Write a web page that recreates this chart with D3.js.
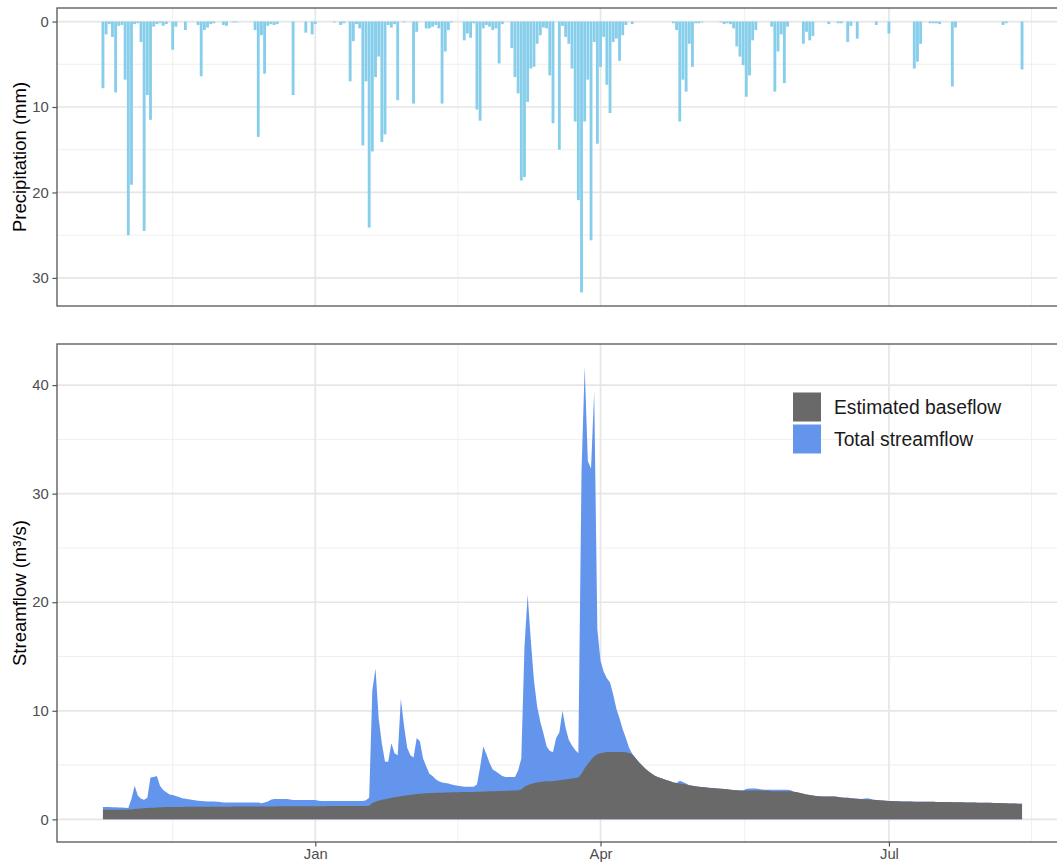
<!DOCTYPE html>
<html>
<head>
<meta charset="utf-8">
<script src="https://cdn.jsdelivr.net/npm/d3@7"></script>
<style>
  body { margin: 0; background: #fff; }
  svg { display: block; }
  text { font-family: "Liberation Sans", Arial, Helvetica, sans-serif; }
</style>
</head>
<body>
<svg id="chart" width="1057" height="863"></svg>
<script>
// Daily record, first day 26 Oct 2018, one value per day
const startDay = "2018-10-26";

// Daily precipitation (mm)
const precipitation = [
  7.8, 1.5, 0.3, 1.8, 8.3, 0.5, 0.4, 6.8, 25.0, 19.1,
  0.3, 0.2, 2.4, 24.5, 8.6, 11.5, 0.6, 0.3, 0.2, 0.5,
  0.3, 0, 3.3, 0.6, 0, 0, 1.0, 0, 0, 0,
  0.4, 6.4, 1.0, 0.7, 0.3, 0.2, 0, 0, 0.4, 0.5,
  0, 0.1, 0.1, 0, 0, 0, 0, 0, 1.0, 13.5,
  1.6, 6.1, 0.5, 0.3, 0.4, 0.3, 0, 0, 0, 0,
  8.6, 0, 0, 0, 1.3, 0, 1.5, 0.3, 0, 0,
  0, 0, 0, 0.1, 0, 0.4, 0.2, 0, 7.0, 2.3,
  0.3, 0.8, 14.5, 7.0, 24.1, 15.2, 6.5, 4.1, 14.1, 13.2,
  0.4, 0.7, 0.3, 9.2, 0, 0.1, 0, 0, 9.6, 1.2,
  0, 0, 0.8, 0.8, 0.6, 0.4, 0.8, 9.6, 3.5, 1.0,
  0.1, 0, 0, 0, 2.2, 1.4, 1.9, 0.2, 10.3, 11.6,
  0.8, 0.4, 0.6, 1.0, 0.8, 4.9, 0.3, 0, 0, 3.1,
  6.5, 8.4, 18.6, 18.2, 9.4, 5.5, 5.3, 2.6, 1.6, 0.7,
  0.8, 6.3, 11.9, 0, 15.0, 0.5, 1.8, 2.6, 5.5, 11.7,
  20.9, 31.7, 11.7, 6.8, 25.6, 2.4, 14.3, 5.3, 1.8, 7.4,
  10.7, 2.4, 2.0, 4.6, 1.6, 0.4, 0, 0.3, 0, 0,
  0, 0, 0, 0, 0, 0, 0, 0, 0, 0,
  0.2, 1.0, 11.7, 6.8, 8.2, 2.6, 5.3, 0.2, 0.2, 0.1,
  0, 0, 0, 0, 0, 0.1, 0.3, 0.2, 0.3, 0.8,
  2.9, 4.1, 5.1, 8.8, 6.3, 2.2, 1.0, 0, 0, 0,
  0, 0.6, 8.2, 3.5, 1.5, 7.2, 0.6, 0, 0, 0,
  0, 2.6, 1.2, 2.2, 1.7, 0, 0, 0, 0, 0.3,
  0, 0, 0.2, 0.2, 0, 2.4, 0.5, 0, 2.0, 0,
  0, 0, 0, 0, 0.4, 0, 0, 0, 1.4, 0,
  0, 0, 0, 0, 0, 0, 5.5, 4.7, 2.6, 0,
  0, 0.2, 0.2, 0.2, 0.3, 0, 0, 0, 7.6, 0.7,
  0, 0, 0, 0, 0, 0, 0, 0, 0, 0,
  0, 0, 0, 0, 0.4, 0.2, 0, 0, 0, 0,
  5.6
];

// Daily total streamflow (m3/s)
const totalFlow = [
  1.15, 1.15, 1.15, 1.12, 1.12, 1.1, 1.1, 1.08, 1.05, 1.9,
  3.1, 2.2, 1.9, 1.8, 2.0, 3.85, 3.9, 4.0, 3.1, 2.7,
  2.5, 2.3, 2.25, 2.15, 2.05, 1.95, 1.9, 1.85, 1.8, 1.75,
  1.72, 1.68, 1.66, 1.65, 1.65, 1.64, 1.63, 1.6, 1.55, 1.55,
  1.55, 1.55, 1.55, 1.55, 1.55, 1.55, 1.55, 1.55, 1.55, 1.55,
  1.48, 1.55, 1.65, 1.8, 1.88, 1.88, 1.88, 1.88, 1.88, 1.82,
  1.78, 1.78, 1.78, 1.78, 1.78, 1.78, 1.78, 1.78, 1.72, 1.7,
  1.7, 1.7, 1.7, 1.7, 1.7, 1.7, 1.7, 1.7, 1.7, 1.7,
  1.7, 1.7, 1.7, 1.75, 2.0, 11.9, 13.9, 9.3, 7.0, 5.3,
  5.3, 7.0, 6.1, 5.9, 11.1, 8.6, 6.6, 5.9, 5.7, 7.5,
  7.2, 5.6, 4.9, 4.2, 4.0, 3.7, 3.5, 3.4, 3.35, 3.3,
  3.2, 3.15, 3.1, 3.05, 3.0, 3.0, 3.0, 3.0, 3.2, 4.8,
  6.7, 6.0, 5.2, 4.6, 4.4, 4.2, 4.0, 3.9, 3.9, 3.9,
  3.9, 4.5, 5.6, 15.9, 20.7, 16.5, 12.8, 10.4, 9.0, 7.9,
  6.7, 6.3, 6.2, 7.5, 8.0, 10.0, 8.4, 7.3, 6.8, 6.4,
  6.1, 32.0, 41.7, 33.0, 32.3, 39.4, 17.5, 14.6, 13.6, 13.0,
  12.6, 11.5, 10.2, 9.3, 8.3, 7.5, 6.6, 6.05, 5.65, 5.3,
  5.0, 4.7, 4.45, 4.25, 4.05, 3.9, 3.8, 3.7, 3.6, 3.5,
  3.4, 3.35, 3.55, 3.45, 3.3, 3.15, 3.1, 3.05, 3.0, 2.98,
  2.95, 2.92, 2.9, 2.87, 2.85, 2.82, 2.8, 2.77, 2.73, 2.7,
  2.68, 2.66, 2.65, 2.8, 2.85, 2.85, 2.85, 2.8, 2.75, 2.72,
  2.72, 2.72, 2.72, 2.72, 2.72, 2.72, 2.72, 2.68, 2.55, 2.5,
  2.42, 2.35, 2.3, 2.25, 2.2, 2.15, 2.12, 2.1, 2.1, 2.1,
  2.1, 2.1, 2.05, 2.02, 2.0, 1.98, 1.95, 1.92, 1.9, 1.88,
  1.9, 1.95, 1.9, 1.8, 1.78, 1.76, 1.74, 1.72, 1.7, 1.68,
  1.66, 1.66, 1.65, 1.65, 1.64, 1.64, 1.63, 1.63, 1.63, 1.62,
  1.62, 1.62, 1.62, 1.6, 1.6, 1.6, 1.59, 1.59, 1.58, 1.58,
  1.57, 1.57, 1.56, 1.56, 1.55, 1.55, 1.54, 1.54, 1.53, 1.53,
  1.52, 1.51, 1.5, 1.5, 1.49, 1.48, 1.47, 1.46, 1.45, 1.44,
  1.43
];

// Daily estimated baseflow (m3/s)
const baseflow = [
  0.88, 0.88, 0.88, 0.88, 0.88, 0.88, 0.88, 0.88, 0.9, 0.92,
  0.95, 0.98, 1.0, 1.02, 1.04, 1.06, 1.08, 1.1, 1.11, 1.12,
  1.13, 1.14, 1.14, 1.15, 1.15, 1.15, 1.16, 1.16, 1.16, 1.17,
  1.17, 1.17, 1.17, 1.17, 1.17, 1.17, 1.17, 1.17, 1.17, 1.17,
  1.17, 1.18, 1.18, 1.18, 1.18, 1.18, 1.18, 1.18, 1.18, 1.18,
  1.18, 1.19, 1.19, 1.19, 1.19, 1.2, 1.2, 1.2, 1.2, 1.2,
  1.2, 1.21, 1.21, 1.21, 1.21, 1.21, 1.21, 1.21, 1.21, 1.21,
  1.21, 1.22, 1.22, 1.22, 1.22, 1.22, 1.22, 1.22, 1.22, 1.22,
  1.22, 1.23, 1.23, 1.23, 1.25, 1.5, 1.62, 1.72, 1.8, 1.86,
  1.92, 1.98, 2.03, 2.08, 2.12, 2.17, 2.22, 2.26, 2.3, 2.33,
  2.36, 2.38, 2.4, 2.42, 2.43, 2.44, 2.45, 2.46, 2.47, 2.48,
  2.49, 2.5, 2.5, 2.51, 2.51, 2.52, 2.52, 2.53, 2.54, 2.55,
  2.56, 2.57, 2.58, 2.59, 2.6, 2.61, 2.62, 2.63, 2.64, 2.65,
  2.66, 2.68, 2.75, 3.0, 3.15, 3.25, 3.32, 3.4, 3.45, 3.48,
  3.5, 3.52, 3.54, 3.56, 3.6, 3.64, 3.68, 3.72, 3.76, 3.8,
  3.85, 4.2, 4.7, 5.1, 5.5, 5.8, 6.0, 6.1, 6.15, 6.2,
  6.2, 6.2, 6.2, 6.2, 6.2, 6.18, 6.12, 6.0, 5.65, 5.3,
  5.0, 4.7, 4.45, 4.25, 4.05, 3.9, 3.8, 3.7, 3.6, 3.5,
  3.4, 3.35, 3.3, 3.25, 3.2, 3.15, 3.1, 3.05, 3.0, 2.98,
  2.95, 2.92, 2.9, 2.87, 2.85, 2.82, 2.8, 2.77, 2.73, 2.7,
  2.68, 2.66, 2.65, 2.65, 2.65, 2.65, 2.65, 2.65, 2.65, 2.65,
  2.65, 2.6, 2.6, 2.6, 2.6, 2.6, 2.6, 2.6, 2.55, 2.5,
  2.42, 2.35, 2.3, 2.25, 2.2, 2.15, 2.12, 2.1, 2.1, 2.1,
  2.1, 2.1, 2.05, 2.02, 2.0, 1.98, 1.95, 1.92, 1.9, 1.88,
  1.86, 1.84, 1.82, 1.8, 1.78, 1.76, 1.74, 1.72, 1.7, 1.68,
  1.66, 1.66, 1.65, 1.65, 1.64, 1.64, 1.63, 1.63, 1.63, 1.62,
  1.62, 1.62, 1.62, 1.6, 1.6, 1.6, 1.59, 1.59, 1.58, 1.58,
  1.57, 1.57, 1.56, 1.56, 1.55, 1.55, 1.54, 1.54, 1.53, 1.53,
  1.52, 1.51, 1.5, 1.5, 1.49, 1.48, 1.47, 1.46, 1.45, 1.44,
  1.43
];

const precipTicks = [0, 10, 20, 30];
const flowTicks = [0, 10, 20, 30, 40];
const monthTickDays = ["2019-01-01", "2019-04-01", "2019-07-01"];
const monthTickLabels = ["Jan", "Apr", "Jul"];
const legendLabels = ["Estimated baseflow", "Total streamflow"];
const precipTitle = "Precipitation (mm)";
const flowTitle = "Streamflow (m\u00B3/s)";

// ---- layout and styling ----
const panelLeft = 57, panelRight = 1068;
const precipPanel = { top: 8, bottom: 306 };
const flowPanel = { top: 344, bottom: 842 };
const colors = { rain: "#87CEEB", total: "#6495ED", base: "#696969" };
const frameColor = "#555555";
const tickLen = 4.6;

const svg = d3.select("#chart");
const parseDay = d3.utcParse("%Y-%m-%d");
const day0 = parseDay(startDay);
const days = precipitation.map((_, i) => d3.utcDay.offset(day0, i));
const records = days.map((d, i) => ({
  date: d, rain: precipitation[i], total: totalFlow[i], base: baseflow[i]
}));

// time axis with 5% padding on both ends
const t0 = +days[0], t1 = +days[days.length - 1];
const tPad = (t1 - t0) * 0.05;
const x = d3.scaleUtc()
  .domain([new Date(t0 - tPad), new Date(t1 + tPad)])
  .range([panelLeft, panelRight]);

const pMax = d3.max(precipitation);
const yP = d3.scaleLinear()
  .domain([-0.05 * pMax, 1.05 * pMax])
  .range([precipPanel.top, precipPanel.bottom]);

const fMax = d3.max(totalFlow);
const yF = d3.scaleLinear()
  .domain([-0.05 * fMax, 1.05 * fMax])
  .range([flowPanel.bottom, flowPanel.top]);

// minor breaks halfway between majors, majors extended one step past each end
function minorBreaks(majors, lo, hi) {
  const b = majors.slice();
  const step = b[1] - b[0];
  if (lo < b[0]) b.unshift(b[0] - step);
  if (hi > b[b.length - 1]) b.push(b[b.length - 1] + step);
  const out = [];
  for (let k = 0; k < b.length - 1; k++) out.push((b[k] + b[k + 1]) / 2);
  return out.filter(v => v > lo && v < hi);
}

const monthDates = monthTickDays.map(parseDay);
const xDom = x.domain().map(Number);
const xMinor = minorBreaks(monthDates.map(Number), xDom[0], xDom[1]).map(v => new Date(v));

function drawPanel(panel, yScale, yTicks, id) {
  const g = svg.append("g");
  const h = panel.bottom - panel.top;
  g.append("rect")
    .attr("x", panelLeft).attr("y", panel.top)
    .attr("width", panelRight - panelLeft).attr("height", h)
    .attr("fill", "#ffffff");

  svg.append("clipPath").attr("id", id)
    .append("rect")
    .attr("x", panelLeft).attr("y", panel.top)
    .attr("width", panelRight - panelLeft).attr("height", h);

  const grid = g.append("g").attr("clip-path", `url(#${id})`);
  const yDom = yScale.domain();
  const yLo = Math.min(...yDom), yHi = Math.max(...yDom);
  const yMinor = minorBreaks(yTicks, yLo, yHi);

  grid.selectAll(null).data(yMinor).join("line")
    .attr("x1", panelLeft).attr("x2", panelRight)
    .attr("y1", d => yScale(d)).attr("y2", d => yScale(d))
    .attr("stroke", "#ededed").attr("stroke-width", 0.9);
  grid.selectAll(null).data(xMinor).join("line")
    .attr("x1", d => x(d)).attr("x2", d => x(d))
    .attr("y1", panel.top).attr("y2", panel.bottom)
    .attr("stroke", "#ededed").attr("stroke-width", 0.9);
  grid.selectAll(null).data(yTicks).join("line")
    .attr("x1", panelLeft).attr("x2", panelRight)
    .attr("y1", d => yScale(d)).attr("y2", d => yScale(d))
    .attr("stroke", "#e6e6e6").attr("stroke-width", 1.7);
  grid.selectAll(null).data(monthDates).join("line")
    .attr("x1", d => x(d)).attr("x2", d => x(d))
    .attr("y1", panel.top).attr("y2", panel.bottom)
    .attr("stroke", "#e6e6e6").attr("stroke-width", 1.7);

  const marks = g.append("g").attr("clip-path", `url(#${id})`);

  // left axis
  const ax = g.append("g")
    .attr("transform", `translate(${panelLeft},0)`)
    .call(d3.axisLeft(yScale).tickValues(yTicks).tickSize(tickLen).tickPadding(3.6));
  ax.select(".domain").remove();
  ax.selectAll(".tick line").attr("stroke", frameColor).attr("stroke-width", 1.2);
  ax.selectAll(".tick text")
    .attr("fill", "#4d4d4d").attr("font-size", "14.8px")
    .attr("font-family", "'Liberation Sans', Arial, sans-serif");

  return { g, marks };
}

function drawFrame(view, panel) {
  view.g.append("rect")
    .attr("x", panelLeft).attr("y", panel.top)
    .attr("width", panelRight - panelLeft).attr("height", panel.bottom - panel.top)
    .attr("fill", "none").attr("stroke", frameColor).attr("stroke-width", 1.3);
}

// ---- precipitation panel ----
const precipView = drawPanel(precipPanel, yP, precipTicks, "clip-precip");
const barW = (x(d3.utcDay.offset(day0, 1)) - x(day0)) * 0.9;
precipView.marks.selectAll("rect.rain")
  .data(records.filter(d => d.rain > 0))
  .join("rect")
  .attr("class", "rain")
  .attr("x", d => x(d.date) - barW / 2)
  .attr("width", barW)
  .attr("y", yP(0))
  .attr("height", d => yP(d.rain) - yP(0))
  .attr("fill", colors.rain);
drawFrame(precipView, precipPanel);

// ---- streamflow panel ----
const flowView = drawPanel(flowPanel, yF, flowTicks, "clip-flow");
const totalArea = d3.area()
  .x(d => x(d.date)).y0(yF(0)).y1(d => yF(d.total));
const baseArea = d3.area()
  .x(d => x(d.date)).y0(yF(0)).y1(d => yF(d.base));

flowView.marks.append("path").datum(records)
  .attr("d", totalArea).attr("fill", colors.total);
flowView.marks.append("path").datum(records)
  .attr("d", baseArea).attr("fill", colors.base);
drawFrame(flowView, flowPanel);

// time axis under the streamflow panel
const xAxis = svg.append("g")
  .attr("transform", `translate(0,${flowPanel.bottom})`)
  .call(d3.axisBottom(x).tickValues(monthDates)
    .tickFormat((d, i) => monthTickLabels[i])
    .tickSize(tickLen).tickPadding(1.8));
xAxis.select(".domain").remove();
xAxis.selectAll(".tick line").attr("stroke", frameColor).attr("stroke-width", 1.2);
xAxis.selectAll(".tick text")
  .attr("fill", "#4d4d4d").attr("font-size", "14.8px")
  .attr("font-family", "'Liberation Sans', Arial, sans-serif");

// axis titles
svg.append("text")
  .attr("transform", `translate(26,${(precipPanel.top + precipPanel.bottom) / 2}) rotate(-90)`)
  .attr("text-anchor", "middle").attr("font-size", "18.5px").attr("fill", "#000")
  .text(precipTitle);
svg.append("text")
  .attr("transform", `translate(26,${(flowPanel.top + flowPanel.bottom) / 2}) rotate(-90)`)
  .attr("text-anchor", "middle").attr("font-size", "18.5px").attr("fill", "#000")
  .text(flowTitle);

// legend inside the streamflow panel
const legendColors = [colors.base, colors.total];
const legend = svg.append("g").attr("transform", "translate(793,392.5)");
const rows = legend.selectAll("g").data(legendLabels).join("g")
  .attr("transform", (d, i) => `translate(0,${i * 32})`);
rows.append("rect")
  .attr("width", 28).attr("height", 29)
  .attr("fill", (d, i) => legendColors[i]);
rows.append("text")
  .attr("x", 41).attr("y", 14.5).attr("dy", "0.35em")
  .attr("font-size", "19.3px").attr("fill", "#1a1a1a")
  .text(d => d);
</script>
</body>
</html>
